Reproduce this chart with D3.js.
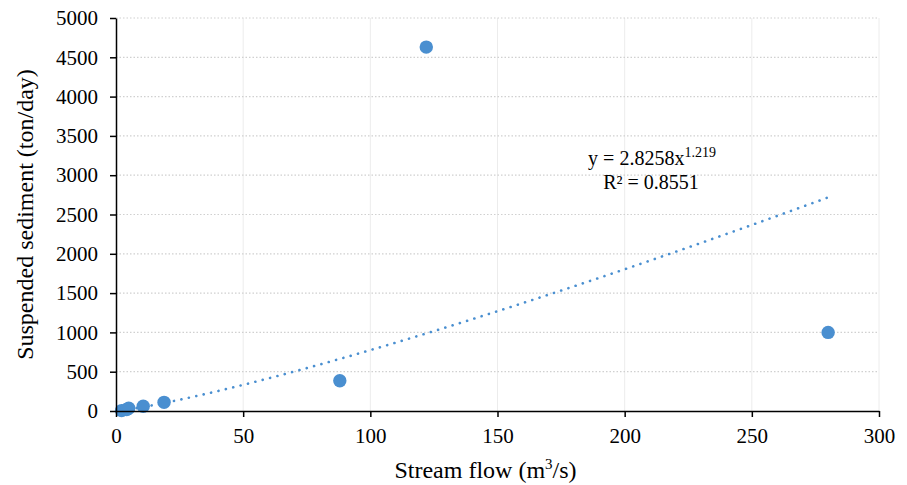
<!DOCTYPE html>
<html>
<head>
<meta charset="utf-8">
<script src="https://cdn.jsdelivr.net/npm/d3@7"></script>
<style>
body { margin: 0; background: #fff; }
text { font-family: "Liberation Serif", "Times New Roman", serif; fill: #000; }
.axis path, .axis line { stroke: #000; stroke-width: 1.5; }
</style>
</head>
<body>
<script>
// set up SVG
var w = 907;
var h = 485;

// plot area
var pdL = 116, pdR = 28, pdT = 18, pdB = 74;

// data
var flow = [2.2, 4.2, 5.0, 10.7, 18.9, 88, 122, 280];
var sediment = [5, 20, 35, 60, 110, 385, 4630, 1000];

// power trendline y = a * x^b
var trendA = 2.8258;
var trendB = 1.219;
var trendR2 = 0.8551;

var xTicks = [0, 50, 100, 150, 200, 250, 300];
var yTicks = [0, 500, 1000, 1500, 2000, 2500, 3000, 3500, 4000, 4500, 5000];

var scaleX = d3.scaleLinear().domain([0, 300]).range([pdL, w - pdR]);
var scaleY = d3.scaleLinear().domain([0, 5000]).range([h - pdB, pdT]);

var svg = d3.select("body").append("svg")
    .attr("width", w)
    .attr("height", h);

// gridlines
svg.append("g").selectAll("line")
   .data(xTicks.slice(1))
   .enter().append("line")
   .attr("x1", d => scaleX(d)).attr("x2", d => scaleX(d))
   .attr("y1", scaleY(0)).attr("y2", scaleY(5000))
   .attr("stroke", "#ececec").attr("stroke-width", 1);

svg.append("g").selectAll("line")
   .data(yTicks.slice(1))
   .enter().append("line")
   .attr("x1", scaleX(0)).attr("x2", scaleX(300))
   .attr("y1", d => scaleY(d)).attr("y2", d => scaleY(d))
   .attr("stroke", "#d0d0d0").attr("stroke-width", 1.2)
   .attr("stroke-dasharray", "1.5,2");

// trendline
var trendPts = [];
var xStart = d3.min(flow), xEnd = d3.max(flow);
for (var i = 0; i <= 100; i++) {
    var xv = xStart + (xEnd - xStart) * i / 100;
    trendPts.push([scaleX(xv), scaleY(trendA * Math.pow(xv, trendB))]);
}
svg.append("path")
   .attr("d", d3.line()(trendPts))
   .attr("fill", "none")
   .attr("stroke", "#4a8fd0")
   .attr("stroke-width", 2.6)
   .attr("stroke-linecap", "round")
   .attr("stroke-dasharray", "0.1,7.5");

// points
svg.append("g").selectAll("circle")
   .data(flow)
   .enter().append("circle")
   .attr("cx", d => scaleX(d))
   .attr("cy", (d, i) => scaleY(sediment[i]))
   .attr("r", 6.7)
   .attr("fill", "#4a8fd0");

// axes
var axisX = d3.axisBottom(scaleX).tickValues(xTicks).tickFormat(d3.format("d"))
              .tickSize(6).tickSizeOuter(0).tickPadding(11);
var axisY = d3.axisLeft(scaleY).tickValues(yTicks).tickFormat(d3.format("d"))
              .tickSize(6).tickSizeOuter(0).tickPadding(12);

var gx = svg.append("g")
   .attr("class", "axis")
   .attr("transform", "translate(0," + scaleY(0) + ")")
   .call(axisX);
var gy = svg.append("g")
   .attr("class", "axis")
   .attr("transform", "translate(" + scaleX(0) + ",0)")
   .call(axisY);
[gx, gy].forEach(function(g) {
    g.selectAll("text")
     .style("font-family", "'Liberation Serif', serif")
     .style("font-size", "21px");
});

// axis titles
var xt = svg.append("text")
   .attr("x", (scaleX(0) + scaleX(300)) / 2 - 12)
   .attr("y", 478)
   .attr("text-anchor", "middle")
   .style("font-size", "24px");
xt.append("tspan").text("Stream flow (m");
xt.append("tspan").text("3").attr("dy", -9).style("font-size", "15px");
xt.append("tspan").text("/s)").attr("dy", 9);

svg.append("text")
   .text("Suspended sediment (ton/day)")
   .attr("transform", "translate(33," + ((scaleY(0) + scaleY(5000)) / 2) + ") rotate(-90)")
   .attr("text-anchor", "middle")
   .style("font-size", "24px");

// trendline label
var eq = svg.append("text")
   .attr("x", 652)
   .attr("y", 165)
   .attr("text-anchor", "middle")
   .style("font-size", "20px");
eq.append("tspan").text("y = " + trendA + "x");
eq.append("tspan").text(trendB).attr("dy", -8).style("font-size", "14px");

svg.append("text")
   .text("R² = " + trendR2)
   .attr("x", 651)
   .attr("y", 189)
   .attr("text-anchor", "middle")
   .style("font-size", "20px");
</script>
</body>
</html>
